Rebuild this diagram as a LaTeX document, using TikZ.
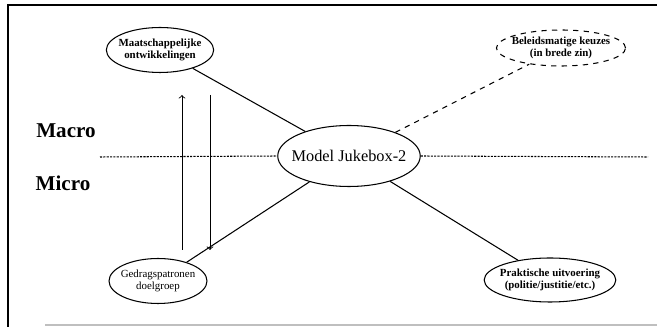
\documentclass[tikz,border=0pt]{standalone}
\usepackage{fontspec}
\setmainfont{Liberation Serif}
\usepackage{tikz}
\usetikzlibrary{arrows,shapes,positioning}

\begin{document}
\begin{tikzpicture}
    [
    x=0.02cm, y=-0.02cm,
    bubble/.style = {draw, ellipse, inner xsep=-2pt, inner ysep=0pt, align=center, line width=0.6pt, font=\fontsize{6.2}{7}\selectfont\bfseries},
    link/.style = {line width=0.6pt},
    arrow/.style = {->, line width=0.5pt},
    level/.style = {line width=0.6pt, dash pattern=on 1.2pt off 0.7pt},
    tag/.style = {font=\fontsize{12}{14}\selectfont\bfseries}
    ]
    \useasboundingbox (0,0) rectangle (657,327);

% Frame
    \draw[line width=1.2pt] (8,327) -- (8,5) -- (657,5);
    \draw[line width=1pt, black!25] (45,325) -- (657,325);

% Nodes
    \node[bubble, minimum width=2.04cm, minimum height=0.9cm] (maat) at (160,50) {Maatschappelijke\\ontwikkelingen};
    \node[bubble, dashed, minimum width=2.26cm, minimum height=0.72cm] (beleid) at (561,48) {Beleidsmatige keuzes\\(in brede zin)};
    \node[bubble, inner xsep=-4pt, minimum width=2.42cm, minimum height=1.22cm, font=\fontsize{9.3}{11}\selectfont] (jukebox) at (349,156) {Model Jukebox-2};
    \node[bubble, minimum width=1.96cm, minimum height=0.9cm, font=\fontsize{6.2}{7}\selectfont] (gedrag) at (158,281) {Gedragspatronen\\doelgroep};
    \node[bubble, minimum width=2.4cm, minimum height=0.88cm] (praktijk) at (550,280) {Praktische uitvoering\\(politie/justitie/etc.)};

    \coordinate (uplow) at (182,250);
    \coordinate (uphigh) at (182,95);
    \coordinate (downhigh) at (210,95);
    \coordinate (downlow) at (210,250);
    \coordinate (levelwest) at (100,157);
    \coordinate (leveleast) at (648,157);

% Arrows
    \draw[link] (jukebox) -- (maat);
    \draw[link, dashed] (jukebox) -- (beleid);
    \draw[link] (jukebox) -- (gedrag);
    \draw[link] (jukebox) -- (praktijk);
    \draw[arrow] (uplow) -- (uphigh);
    \draw[arrow] (downhigh) -- (downlow);
    \draw[level] (levelwest) -- (jukebox.west);
    \draw[level] (jukebox.east) -- (leveleast);

% Labels
    \node[tag] (macro) at (66,131) {Macro};
    \node[tag] (micro) at (63,183) {Micro};

\end{tikzpicture}
\end{document}
